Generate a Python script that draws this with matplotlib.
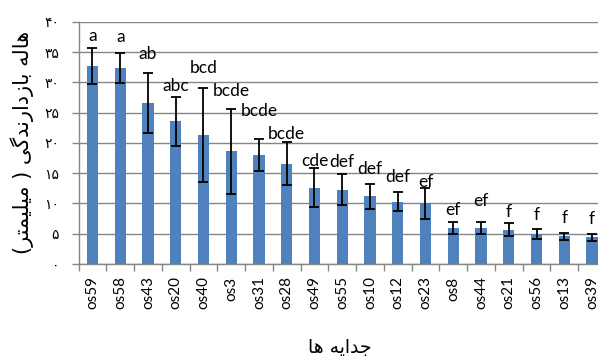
import numpy as np
import matplotlib
matplotlib.use("Agg")
import matplotlib.pyplot as plt
from matplotlib.ticker import FixedLocator

plt.rcParams['font.family'] = ['Lato', 'DejaVu Sans']

# جدایه ها و قطر هاله بازدارندگی (میلیمتر)
isolates = ["os59", "os58", "os43", "os20", "os40", "os3", "os31", "os28", "os49",
            "os55", "os10", "os12", "os23", "os8", "os44", "os21", "os56", "os13", "os39"]
zone_mm = [32.7, 32.4, 26.6, 23.6, 21.3, 18.6, 18.0, 16.6, 12.6,
           12.3, 11.2, 10.3, 10.0, 5.95, 5.95, 5.7, 5.0, 4.55, 4.4]
zone_err = [3.0, 2.5, 5.0, 4.05, 7.75, 6.95, 2.7, 3.5, 3.2,
            2.5, 2.1, 1.6, 2.5, 1.0, 1.0, 1.0, 0.8, 0.6, 0.55]
groups = ["a", "a", "ab", "abc", "bcd", "bcde", "bcde", "bcde", "cde",
          "def", "def", "def", "ef", "ef", "ef", "f", "f", "f", "f"]
# فاصله حروف از بالای خط خطا
group_pad = [2.0, 2.6, 3.1, 1.8, 3.3, 3.0, 4.6, 1.4, 1.3,
             2.1, 2.4, 2.5, 1.1, 2.0, 3.5, 1.9, 2.3, 2.5, 2.5]
yticks = [0, 5, 10, 15, 20, 25, 30, 35, 40]

# شکل دهی ساده حروف فارسی برای نمایش راست به چپ
FORMS = {
    'ا': ('\uFE8D', '\uFE8E', None, None),
    'ب': ('\uFE8F', '\uFE90', '\uFE91', '\uFE92'),
    'ت': ('\uFE95', '\uFE96', '\uFE97', '\uFE98'),
    'ج': ('\uFE9D', '\uFE9E', '\uFE9F', '\uFEA0'),
    'د': ('\uFEA9', '\uFEAA', None, None),
    'ر': ('\uFEAD', '\uFEAE', None, None),
    'ز': ('\uFEAF', '\uFEB0', None, None),
    'ل': ('\uFEDD', '\uFEDE', '\uFEDF', '\uFEE0'),
    'م': ('\uFEE1', '\uFEE2', '\uFEE3', '\uFEE4'),
    'ن': ('\uFEE5', '\uFEE6', '\uFEE7', '\uFEE8'),
    'ه': ('\uFEE9', '\uFEEA', '\uFEEB', '\uFEEC'),
    'گ': ('\uFB92', '\uFB93', '\uFB94', '\uFB95'),
    'ی': ('\uFBFC', '\uFBFD', '\uFBFE', '\uFBFF'),
}


def fa(text):
    out = []
    for i, ch in enumerate(text):
        if ch not in FORMS:
            out.append(ch)
            continue
        prev = text[i - 1] if i > 0 else ''
        nxt = text[i + 1] if i + 1 < len(text) else ''
        join_prev = prev in FORMS and FORMS[prev][2] is not None
        join_next = FORMS[ch][2] is not None and nxt in FORMS
        iso, fin, ini, med = FORMS[ch]
        if join_prev and join_next:
            out.append(med)
        elif join_prev:
            out.append(fin)
        elif join_next:
            out.append(ini)
        else:
            out.append(iso)
    return ''.join(reversed(out)).translate(str.maketrans('()', ')('))


def fa_digits(n):
    return str(n).translate(str.maketrans('0123456789', '۰۱۲۳۴۵۶۷۸۹'))


grid_c = '#868686'
x = np.arange(len(isolates))

fig = plt.figure(figsize=(5.98, 3.58), dpi=100)
ax = fig.add_axes([0.1314, 0.2626, 0.8818, 0.676])

ax.bar(x, zone_mm, width=0.41, color='#4F81BD', zorder=3)
ax.errorbar(x, zone_mm, yerr=zone_err, fmt='none', ecolor='black',
            elinewidth=1.3, capsize=3.5, capthick=1.3, zorder=4)

for xi, m, e, g, p in zip(x, zone_mm, zone_err, groups, group_pad):
    ax.text(xi, m + e + p, g, ha='center', va='center', fontsize=12.5, color='black', zorder=5)

ax.set_xlim(-0.5, len(isolates) - 0.5)
ax.set_ylim(0, 40)
ax.set_yticks(yticks)
ax.set_yticklabels([fa_digits(v) for v in yticks], family='DejaVu Sans', fontsize=10)
ax.yaxis.grid(True, color=grid_c, linewidth=1.0, zorder=0)

ax.set_xticks(x)
ax.set_xticklabels(isolates, rotation=90, fontsize=11)
ax.xaxis.set_minor_locator(FixedLocator(np.arange(-0.5, len(isolates), 1.0)))
ax.tick_params(axis='x', which='major', length=0, pad=9)
ax.tick_params(axis='x', which='minor', length=5, color=grid_c, width=1)
ax.tick_params(axis='y', length=5, color=grid_c, width=1, pad=9)

for side in ['top', 'right']:
    ax.spines[side].set_visible(False)
for side in ['left', 'bottom']:
    ax.spines[side].set_color(grid_c)
    ax.spines[side].set_linewidth(1.0)

fig.text(22 / 598, 1 - 142 / 358, fa('هاله بازدارندگی ( میلیمتر)'), rotation=90,
         ha='center', va='center', family='DejaVu Sans', fontsize=15)
fig.text(340 / 598, 1 - 348 / 358, fa('جدایه ها'), ha='center', va='center',
         family='DejaVu Sans', fontsize=13.5)

fig.savefig('out.png', dpi=100)
